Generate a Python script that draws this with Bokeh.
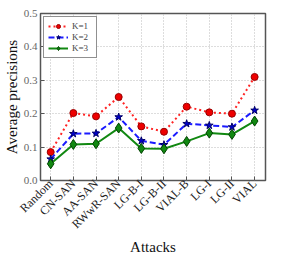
import math
from bokeh.plotting import figure
from bokeh.models import FixedTicker, Range1d, Legend, LegendItem
from bokeh.embed import file_html
from bokeh.resources import INLINE

attacks = ["Random", "CN-SAN", "AA-SAN", "RWwR-SAN", "LG-B-I", "LG-B-II",
           "VIAL-B", "LG-I", "LG-II", "VIAL"]
k1 = [0.085, 0.202, 0.192, 0.250, 0.162, 0.146, 0.221, 0.204, 0.200, 0.310]
k2 = [0.064, 0.140, 0.141, 0.190, 0.119, 0.107, 0.170, 0.165, 0.160, 0.210]
k3 = [0.050, 0.108, 0.110, 0.157, 0.096, 0.095, 0.117, 0.142, 0.138, 0.178]
yticks = [0.0, 0.1, 0.2, 0.3, 0.4, 0.5]

xs = list(range(len(attacks)))
FONT = "Liberation Serif"

p = figure(frame_width=225, frame_height=167, output_backend="svg", toolbar_location=None,
           x_range=Range1d(-0.45, len(attacks) - 1 + 0.48), y_range=Range1d(0, 0.5),
           min_border_left=30, min_border_right=20, min_border_top=13, min_border_bottom=10)

p.outline_line_color = "#555555"
p.outline_line_width = 1.5

p.xaxis.ticker = FixedTicker(ticks=xs)
p.xaxis.major_label_overrides = {i: a for i, a in enumerate(attacks)}
p.xaxis.major_label_orientation = math.pi / 4
p.yaxis.ticker = FixedTicker(ticks=yticks)
p.yaxis.major_label_overrides = {t: f"{t:.1f}" for t in yticks}
for ax in (p.xaxis, p.yaxis):
    ax.axis_line_color = None
    ax.major_tick_in = 4
    ax.major_tick_out = 0
    ax.minor_tick_line_color = None
    ax.major_tick_line_color = "#555555"
    ax.major_label_text_font = FONT
    ax.major_label_text_color = "#222222"
    ax.axis_label_text_font = FONT
    ax.axis_label_text_font_size = "15px"
    ax.axis_label_text_font_style = "normal"
    ax.axis_label_text_color = "#111111"
p.xaxis.major_label_text_font_size = "12px"
p.yaxis.major_label_text_font_size = "11px"
p.yaxis.major_label_text_color = "#666666"
p.xaxis.axis_label = "Attacks"
p.yaxis.axis_label = "Average precisions"
p.xaxis.major_label_standoff = 1
p.yaxis.major_label_standoff = 3
p.xaxis.axis_label_standoff = 0
p.yaxis.axis_label_standoff = 1

p.grid.grid_line_color = "#bbbbbb"
p.grid.grid_line_dash = "1 2"
p.grid.grid_line_width = 1

l1 = p.line(xs, k1, line_color="#ff2222", line_width=2, line_dash="2 3")
s1 = p.scatter(xs, k1, marker="circle", size=7, fill_color="#ee0000", line_color="#990000")
l2 = p.line(xs, k2, line_color="#1a1aff", line_width=2, line_dash="6 3")
s2 = p.scatter(xs, k2, marker="star", size=8, fill_color="#0000cc", line_color="#000066")
l3 = p.line(xs, k3, line_color="#118811", line_width=2)
s3 = p.scatter(xs, k3, marker="diamond", size=10, fill_color="#118811", line_color="#004400")

legend = Legend(items=[LegendItem(label="K=1", renderers=[l1, s1]),
                       LegendItem(label="K=2", renderers=[l2, s2]),
                       LegendItem(label="K=3", renderers=[l3, s3])],
                location="top_left")
legend.label_text_font = FONT
legend.label_text_font_size = "9px"
legend.glyph_width = 20
legend.glyph_height = 10
legend.label_height = 10
legend.spacing = 1
legend.padding = 4
legend.margin = 3
legend.label_standoff = 4
legend.border_line_color = "#222222"
legend.border_line_width = 1
legend.background_fill_alpha = 1
p.add_layout(legend)

open("out.html", "w").write(file_html(p, INLINE))
